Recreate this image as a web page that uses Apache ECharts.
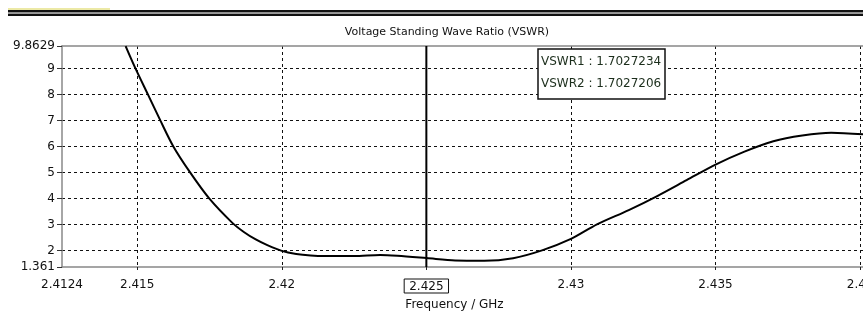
<!DOCTYPE html>
<html>
<head>
<meta charset="utf-8">
<script src="https://cdn.jsdelivr.net/npm/echarts@6/dist/echarts.min.js"></script>
<style>
  html, body { margin: 0; padding: 0; background: #fff; }
  #chart { width: 863px; height: 311px; }
</style>
</head>
<body>
<div id="chart"></div>
<script>
// VSWR sweep (GHz -> ratio)
const freqs = [2.4146, 2.41494, 2.41537, 2.4158, 2.41625, 2.41683, 2.41749, 2.4183, 2.4187, 2.4191,
  2.4195, 2.42, 2.4205, 2.421, 2.4215, 2.4225, 2.4234, 2.424, 2.425, 2.426,
  2.427, 2.428, 2.429, 2.43, 2.4309, 2.432, 2.433, 2.434, 2.435, 2.436,
  2.437, 2.438, 2.439, 2.4401]
const vswr = [9.86, 9.0, 8.0, 7.0, 6.0, 5.0, 4.0, 3.05, 2.7, 2.42,
  2.2, 1.98, 1.86, 1.8, 1.78, 1.78, 1.82, 1.79, 1.7027, 1.61,
  1.6, 1.7, 2.0, 2.44, 3.0, 3.55, 4.1, 4.7, 5.3, 5.8,
  6.2, 6.42, 6.53, 6.47]

const xMin = 2.4124
const xMax = 2.4401
const yMin = 1.361
const yMax = 9.8629
const xGridValues = [2.415, 2.42, 2.425, 2.43, 2.435, 2.44]
const xLabelValues = [2.4124, 2.415, 2.42, 2.425, 2.43, 2.435, 2.44]
const yGridValues = [2, 3, 4, 5, 6, 7, 8, 9]
const yLabelValues = [1.361, 2, 3, 4, 5, 6, 7, 8, 9, 9.8629]
const markerFreq = 2.425
const markerText = ['VSWR1 : 1.7027234', 'VSWR2 : 1.7027206']

const font = 'DejaVu Sans'
const chart = echarts.init(document.getElementById('chart'), null, { renderer: 'canvas' })

chart.setOption({
  animation: false,
  backgroundColor: '#fff',
  title: [
    {
      text: 'Voltage Standing Wave Ratio (VSWR)',
      left: 442,
      top: 22,
      textAlign: 'center',
      textStyle: { fontFamily: font, fontSize: 11, fontWeight: 'normal', color: '#111' }
    },
    {
      text: markerText.join('\n'),
      left: 538,
      top: 49,
      padding: [2, 4, 4, 3],
      borderColor: '#111',
      borderWidth: 1.5,
      backgroundColor: '#fff',
      textStyle: { fontFamily: font, fontSize: 12, fontWeight: 'normal', color: '#1c2e1c', lineHeight: 22 }
    }
  ],
  graphic: [
    { type: 'rect', shape: { x: 8, y: 8, width: 102, height: 2 }, style: { fill: '#ece9a6' } },
    { type: 'rect', shape: { x: 8, y: 10, width: 855, height: 2.5 }, style: { fill: '#111' } },
    { type: 'rect', shape: { x: 8, y: 12.5, width: 855, height: 1.5 }, style: { fill: '#9a9a9a' } },
    { type: 'rect', shape: { x: 8, y: 14, width: 855, height: 2 }, style: { fill: '#111' } }
  ],
  grid: { left: 62, right: 0, top: 46, bottom: 44, outerBoundsMode: 'none', containLabel: false },
  xAxis: [
    {
      type: 'value',
      min: xMin,
      max: xMax,
      name: 'Frequency / GHz',
      nameLocation: 'middle',
      nameGap: 30,
      nameTextStyle: { fontFamily: font, fontSize: 12, color: '#111', padding: [0, 16, 0, 0] },
      axisLine: { lineStyle: { color: '#888', width: 1.5 } },
      axisTick: { show: true, customValues: xGridValues, length: 5, lineStyle: { color: '#222', type: [3, 2] } },
      splitLine: { show: true, lineStyle: { color: '#111', width: 1, type: [3, 3] } },
      axisLabel: {
        customValues: xLabelValues,
        margin: 12,
        fontFamily: font,
        fontSize: 12,
        color: '#111',
        formatter: (v) => Math.abs(v - markerFreq) < 1e-9 ? '{box|' + v + '}' : String(v),
        rich: {
          box: { fontFamily: font, fontSize: 12, color: '#111', borderColor: '#111', borderWidth: 1, padding: [2, 5, 0, 5] }
        }
      }
    },
    {
      type: 'value',
      min: xMin,
      max: xMax,
      position: 'top',
      axisLine: { show: true, lineStyle: { color: '#888', width: 1.5 } },
      axisTick: { show: false },
      axisLabel: { show: false },
      splitLine: { show: false }
    }
  ],
  yAxis: [
    {
      type: 'value',
      min: yMin,
      max: yMax,
      axisLine: { show: true, lineStyle: { color: '#888', width: 1.5 } },
      axisTick: { show: true, customValues: yGridValues, length: 5, lineStyle: { color: '#333' } },
      splitLine: { show: true, lineStyle: { color: '#111', width: 1, type: [3, 3] } },
      axisLabel: {
        customValues: yLabelValues,
        margin: 7,
        fontFamily: font,
        fontSize: 12,
        color: '#111',
        formatter: (v) => String(v)
      }
    },
    {
      type: 'value',
      min: yMin,
      max: yMax,
      position: 'left',
      axisLine: { show: false },
      axisTick: { show: true, customValues: [yMin, yMax], length: 5, lineStyle: { color: '#333' } },
      axisLabel: { show: false },
      splitLine: { show: false }
    }
  ],
  series: [
    {
      name: 'VSWR',
      type: 'line',
      data: freqs.map((f, i) => [f, vswr[i]]),
      smooth: 0.3,
      symbol: 'none',
      clip: true,
      lineStyle: { color: '#000', width: 2 }
    },
    {
      name: 'marker',
      type: 'line',
      data: [[markerFreq, yMin], [markerFreq, yMax]],
      symbol: 'none',
      silent: true,
      lineStyle: { color: '#000', width: 2 }
    }
  ]
})
</script>
</body>
</html>
